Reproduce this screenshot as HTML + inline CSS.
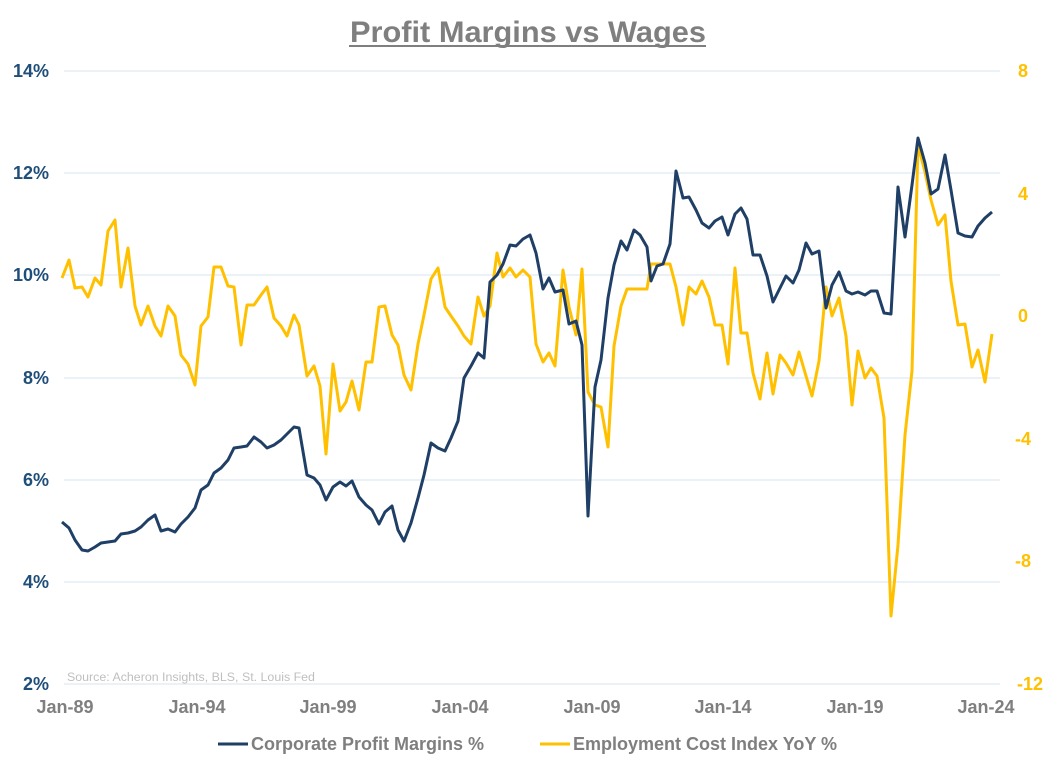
<!DOCTYPE html>
<html><head><meta charset="utf-8"><style>
body{margin:0;background:#fff;}
svg text{font-family:"Liberation Sans",Arial,sans-serif;font-weight:bold;}
</style></head><body>
<svg width="1055" height="769" viewBox="0 0 1055 769" xmlns="http://www.w3.org/2000/svg">
<rect width="1055" height="769" fill="#fff"/>
<text x="528" y="42" text-anchor="middle" font-size="29.5" fill="#7f7f7f" textLength="356" lengthAdjust="spacingAndGlyphs">Profit Margins vs Wages</text>
<line x1="349" y1="46" x2="706" y2="46" stroke="#7f7f7f" stroke-width="2"/>
<g stroke="#d6e4f0" stroke-width="1">
<line x1="64" y1="71" x2="1000" y2="71"/><line x1="64" y1="173" x2="1000" y2="173"/>
<line x1="64" y1="275" x2="1000" y2="275"/><line x1="64" y1="378" x2="1000" y2="378"/>
<line x1="64" y1="480" x2="1000" y2="480"/><line x1="64" y1="582" x2="1000" y2="582"/>
<line x1="64" y1="684" x2="1000" y2="684"/>
</g>
<g font-size="18" fill="#1f4e79" text-anchor="end">
<text x="49" y="77">14%</text><text x="49" y="179">12%</text><text x="49" y="281">10%</text>
<text x="49" y="384">8%</text><text x="49" y="486">6%</text><text x="49" y="588">4%</text><text x="49" y="690">2%</text>
</g>
<g font-size="18" fill="#ffc000" text-anchor="middle">
<text x="1023" y="77">8</text><text x="1023" y="200">4</text><text x="1023" y="322">0</text>
<text x="1023" y="445">-4</text><text x="1023" y="567">-8</text><text x="1030" y="690">-12</text>
</g>
<g font-size="18" fill="#7f7f7f" text-anchor="middle">
<text x="65" y="713">Jan-89</text><text x="197" y="713">Jan-94</text><text x="328" y="713">Jan-99</text>
<text x="460" y="713">Jan-04</text><text x="592" y="713">Jan-09</text><text x="723" y="713">Jan-14</text>
<text x="855" y="713">Jan-19</text><text x="986" y="713">Jan-24</text>
</g>
<text x="67" y="681" font-size="12.4" fill="#bfbfbf" style="font-weight:normal">Source: Acheron Insights, BLS, St. Louis Fed</text>
<polyline fill="none" stroke="#ffc000" stroke-width="3" stroke-linejoin="round" points="62,278 69,260 75,288 82,287 88,297 95,278 101,285 108,231 115,220 121,287 128,248 135,306 141,325 148,306 155,326 161,336 168,306 175,316 181,355 188,364 195,385 201,326 208,317 214,267 221,267 228,286 234,287 241,345 247,305 254,305 261,295 267,287 274,318 281,326 287,336 294,315 299,325 307,376 314,366 320,386 326,454 333,364 340,411 346,402 352,381 359,410 366,362 372,362 379,307 385,306 392,335 398,345 404,375 411,390 418,344 424,315 431,279 438,268 445,307 451,316 458,326 464,336 471,344 478,297 484,316 490,306 497,253 503,277 510,268 516,277 523,270 530,277 536,344 543,362 549,353 555,366 563,270 569,307 576,335 582,269 588,392 595,405 601,407 608,447 614,346 621,306 627,289 634,289 640,289 647,289 651,264 657,264 663,264 670,264 676,287 683,325 689,287 696,294 702,281 709,297 715,325 722,325 728,364 735,268 741,333 747,333 753,373 760,399 767,353 773,394 780,355 786,363 793,375 799,352 806,376 812,396 819,361 826,287 832,316 839,298 846,336 852,405 858,351 865,378 871,368 877,376 884,418 891,616 898,545 905,435 912,371 918,145 925,172 931,200 938,225 945,215 951,281 958,325 965,324 972,367 978,350 985,382 992,334"/>
<polyline fill="none" stroke="#1f3f66" stroke-width="3" stroke-linejoin="round" points="62,522 69,528 75,540 82,550 88,551 95,547 101,543 108,542 115,541 121,534 128,533 135,531 141,527 148,520 155,515 161,531 168,529 175,532 181,524 188,517 195,508 201,490 208,485 214,473 221,468 228,460 234,448 241,447 247,446 254,437 261,442 267,448 274,445 281,440 287,434 294,427 299,428 307,475 314,478 320,485 326,500 333,487 340,482 346,486 352,481 359,497 366,505 372,510 379,524 385,512 392,506 398,530 404,541 411,523 418,498 424,475 431,443 438,448 445,451 451,438 458,421 464,378 471,366 478,353 484,358 490,282 497,275 503,264 510,245 516,246 523,239 530,235 536,253 543,289 549,278 555,292 563,290 569,324 576,321 582,345 588,516 595,387 601,360 608,298 614,265 621,241 627,250 634,230 640,235 647,247 651,281 657,266 663,264 670,244 676,171 683,198 689,197 696,210 702,223 709,228 715,221 722,217 728,235 735,214 741,208 747,219 753,255 760,255 767,276 773,302 780,288 786,276 793,283 799,270 806,243 812,254 819,251 826,308 832,285 839,272 846,291 852,294 858,292 865,295 871,291 877,291 884,313 891,314 898,187 905,237 912,185 918,138 925,163 931,194 938,189 945,155 951,190 958,233 965,236 972,237 978,226 985,218 992,212"/>
<line x1="218" y1="744" x2="248" y2="744" stroke="#1f3f66" stroke-width="3"/>
<text x="251" y="750" font-size="18" fill="#7f7f7f">Corporate Profit Margins %</text>
<line x1="540" y1="744" x2="570" y2="744" stroke="#ffc000" stroke-width="3"/>
<text x="573" y="750" font-size="18" fill="#7f7f7f">Employment Cost Index YoY %</text>
</svg>
</body></html>
